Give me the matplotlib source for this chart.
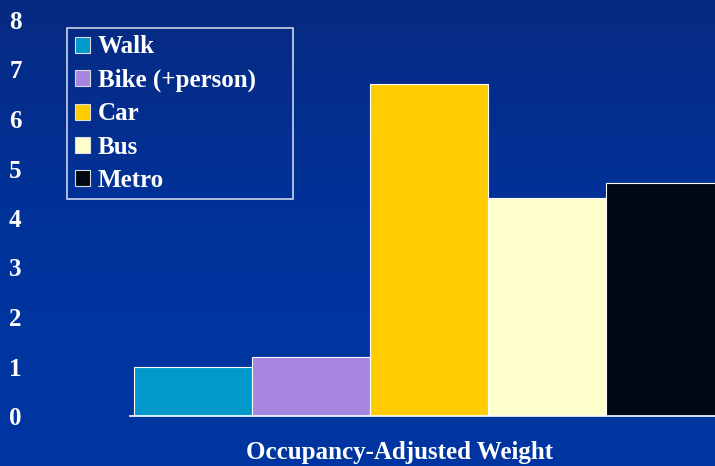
import numpy as np
import matplotlib
matplotlib.use('Agg')
import matplotlib.pyplot as plt
from matplotlib.colors import LinearSegmentedColormap

# Data
modes = ['Walk', 'Bike (+person)', 'Car', 'Bus', 'Metro']
weights = [1.0, 1.2, 6.7, 4.4, 4.7]
colors = ['#0099cc', '#a686de', '#ffcc00', '#ffffcc', '#000814']
y_ticks = [0, 1, 2, 3, 4, 5, 6, 7, 8]
category = 'Occupancy-Adjusted Weight'

plt.rcParams['font.family'] = ['Liberation Serif', 'DejaVu Serif']
plt.rcParams['font.weight'] = 'bold'

W, H = 715, 466
fig = plt.figure(figsize=(W / 100, H / 100), dpi=100)

# Background gradient
bg = fig.add_axes([0, 0, 1, 1], zorder=-10)
cmap = LinearSegmentedColormap.from_list('bg', ['#072a82', '#00339c', '#0036a2'])
grad = np.linspace(0, 1, 256).reshape(-1, 1)
bg.imshow(grad, aspect='auto', cmap=cmap, extent=[0, 1, 1, 0])
bg.set_axis_off()

# Plot area in pixels: left 130, right 728, bottom 416 (from top), top 20
left, right, top, bottom = 130, 728, 20, 416
ax = fig.add_axes([left / W, (H - bottom) / H, (right - left) / W, (bottom - top) / H])
ax.patch.set_alpha(0)

x = np.arange(len(modes))
bars = ax.bar(x, weights, width=1.0, color=colors, edgecolor='white', linewidth=0.8)
gap = 4 / 118
ax.set_xlim(-0.5 - gap, len(modes) - 0.5 + gap)
ax.set_ylim(0, 8)
ax.set_yticks(y_ticks)
ax.set_xticks([])
ax.tick_params(axis='y', length=0, pad=78, labelsize=18, labelcolor='white')
for s in ['top', 'right', 'left']:
    ax.spines[s].set_visible(False)
ax.spines['bottom'].set_color('white')
ax.spines['bottom'].set_linewidth(1.2)

fig.text(400 / W, 1 - 452 / H, category, color='white', fontsize=18,
         fontweight='bold', ha='center', va='center')

leg = ax.legend(bars, modes, loc='upper left',
                bbox_to_anchor=(67 / W, 1 - 198 / H, 226 / W, 170 / H),
                bbox_transform=fig.transFigure, mode='expand', fontsize=18,
                frameon=True, fancybox=False, handlelength=0.62, handleheight=0.62,
                handletextpad=0.3, labelspacing=0.41, borderpad=0.3,
                borderaxespad=0)
leg.get_frame().set_facecolor('none')
leg.get_frame().set_edgecolor('white')
leg.get_frame().set_linewidth(1.2)
for t in leg.get_texts():
    t.set_color('white')
for p in leg.get_patches():
    p.set_edgecolor('#dddddd')

fig.savefig('out.png', dpi=100)
